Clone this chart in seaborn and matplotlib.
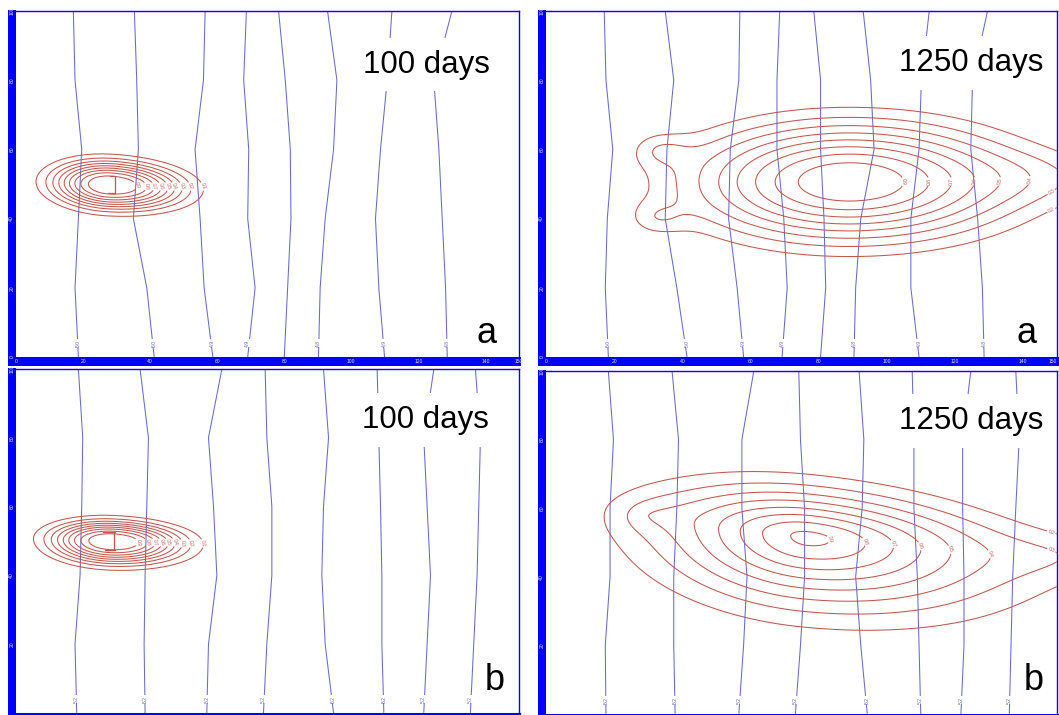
import numpy as np
import pandas as pd
import matplotlib
matplotlib.use("Agg")
import matplotlib.pyplot as plt
import seaborn as sns
from matplotlib.patches import Rectangle

sns.set_style("white")
plt.rcParams["font.family"] = ["Liberation Sans", "DejaVu Sans"]

# ---------------------------------------------------------------- data
# sample depths (m) at which each head isoline is traced
iso_y = [100, 80, 60, 40, 20, 0]

# x position (m) of each head isoline at the depths above
iso_a100 = [
    [17.1, 17.6, 19.6, 18.6, 17.6, 18.6],
    [35.3, 36.0, 36.5, 35.0, 39.0, 41.2],
    [56.4, 55.9, 53.4, 54.9, 56.1, 58.7],
    [68.7, 67.9, 69.4, 69.1, 71.3, 69.1],
    [78.3, 80.3, 81.8, 82.0, 81.0, 80.0],
    [92.9, 95.7, 94.7, 92.2, 90.7, 90.2],
    [112.1, 110.7, 108.7, 107.2, 108.2, 109.9],
    [130.0, 124.6, 126.1, 127.1, 128.1, 128.6],
]
iso_a1250 = [
    [17.1, 17.6, 19.6, 18.0, 17.4, 18.3],
    [35.0, 37.5, 35.5, 35.0, 38.4, 41.4],
    [56.9, 56.6, 54.1, 53.6, 56.1, 58.0],
    [68.6, 67.8, 67.8, 69.8, 70.8, 69.3],
    [78.6, 80.6, 80.6, 81.6, 82.1, 80.6],
    [93.1, 95.3, 96.3, 92.4, 90.9, 90.4],
    [112.5, 110.2, 109.5, 107.1, 107.1, 109.5],
    [129.6, 125.2, 124.7, 126.7, 128.1, 128.6],
]
iso_b100 = [
    [18.6, 19.9, 19.6, 19.1, 17.6, 18.1],
    [37.0, 39.5, 39.0, 38.5, 38.2, 38.5],
    [61.4, 57.4, 58.9, 59.9, 57.4, 56.9],
    [74.3, 74.8, 76.3, 76.3, 74.8, 73.8],
    [91.7, 93.2, 91.7, 91.2, 92.2, 94.7],
    [107.7, 108.2, 108.7, 109.1, 109.1, 109.7],
    [124.6, 121.6, 122.6, 123.6, 122.6, 121.6],
    [137.0, 138.5, 138.0, 137.5, 136.5, 135.5],
]
iso_b1250 = [
    [18.3, 19.8, 18.8, 18.8, 17.4, 17.6],
    [37.0, 38.9, 38.4, 37.5, 37.5, 37.9],
    [61.0, 57.5, 57.5, 59.0, 58.0, 56.6],
    [74.2, 74.7, 75.9, 75.9, 74.7, 73.2],
    [91.9, 93.3, 92.8, 90.9, 92.4, 94.3],
    [107.5, 108.0, 108.0, 109.0, 109.5, 110.0],
    [124.7, 122.3, 122.3, 122.7, 122.7, 121.8],
    [137.9, 138.9, 137.9, 137.0, 136.5, 136.0],
]

# head values written at the foot of each isoline ("" = unlabelled)
head_labels_a = ["5.0", "5.0", "4.9", "4.9", "", "4.8", "4.9", "4.8"]
head_labels_b = ["5.2", "5.2", "5.2", "5.2", "5.2", "5.2", "5.2", "5.2"]

# plume components: centre, spreads (left/right, up/down), peak, tilt (deg)
a100_x, a100_y = [28.0], [49.7]
a100_sxl, a100_sxr, a100_syu, a100_syd = [15.8], [20.0], [6.4], [6.4]
a100_amp, a100_tilt, a100_shape = [1.0], [-3.0], 2.5

b100_x, b100_y = [28.5], [49.9]
b100_sxl, b100_sxr, b100_syu, b100_syd = [16.7], [19.6], [5.4], [6.0]
b100_amp, b100_tilt, b100_shape = [1.0], [-2.0], 2.5

a1250_x, a1250_y = [89.0, 150.0, 33.0, 32.0], [50.6, 52.0, 60.0, 40.0]
a1250_sxl, a1250_sxr = [46.0, 25.0, 8.0, 8.0], [48.0, 25.0, 9.0, 9.0]
a1250_syu, a1250_syd = [17.0, 8.0, 5.0, 5.0], [17.0, 8.0, 5.0, 5.0]
a1250_amp, a1250_tilt, a1250_shape = [1.0, 0.12, 0.15, 0.15], [0, 0, 0, 0], 2.0

b1250_x, b1250_y = [77.0, 150.0, 30.0], [51.5, 46.0, 58.0]
b1250_sxl, b1250_sxr = [44.0, 20.0, 10.0], [55.0, 20.0, 10.0]
b1250_syu, b1250_syd = [14.0, 7.0, 5.0], [20.0, 7.0, 5.0]
b1250_amp, b1250_tilt, b1250_shape = [0.93, 0.12, 0.10], [-6.0, 0, 0], 1.6

levels_100 = [0.1, 0.2, 0.3, 0.4, 0.5, 0.6, 0.7, 0.8, 0.9]
levels_1250 = [0.2, 0.3, 0.4, 0.5, 0.6, 0.7, 0.8, 0.9]

# injection well outline (x, y)
well_a_x, well_a_y = [28.0, 29.5, 29.5, 27.5], [52.2, 52.2, 47.3, 47.3]
well_b_x, well_b_y = [26.0, 29.5, 29.2, 29.2, 26.5, 29.5], [52.6, 52.6, 52.6, 47.3, 47.3, 47.3]

x_ticks = [0, 20, 40, 60, 80, 100, 120, 140, 150]
y_ticks = [0, 20, 40, 60, 80, 100]

# ---------------------------------------------------------------- style
W, H = 1059, 715
BAR = "#0000ff"
ISO = "#6868d4"
RED = "#c4554c"

fig = plt.figure(figsize=(W / 100, H / 100), dpi=100)

gx, gy = np.meshgrid(np.linspace(0, 150, 451), np.linspace(0, 100, 301))


def plume(bx, by, sxl, sxr, syu, syd, amp, tilt, shape):
    z = np.zeros_like(gx)
    for x0, y0, a, b, c, d, A, t in zip(bx, by, sxl, sxr, syu, syd, amp, tilt):
        th = np.deg2rad(t)
        dx, dy = gx - x0, gy - y0
        u = dx * np.cos(th) + dy * np.sin(th)
        v = -dx * np.sin(th) + dy * np.cos(th)
        su = np.where(u < 0, a, b)
        sv = np.where(v > 0, c, d)
        r2 = (u / su) ** 2 + (v / sv) ** 2
        z += A * np.exp(-(r2 ** (shape / 2)))
    return z


def fig_rect(x0, y0, x1, y1, **kw):
    fig.add_artist(Rectangle((x0 / W, 1 - y1 / H), (x1 - x0) / W, (y1 - y0) / H,
                             transform=fig.transFigure, zorder=-1, lw=0, **kw))


def panel(box, iso, head_labels, field, levels, well, title, letter,
          title_pos, letter_pos, bottom_row, right_col):
    x0, y0, x1, y1 = box
    ax = fig.add_axes([x0 / W, 1 - y1 / H, (x1 - x0) / W, (y1 - y0) / H])
    ax.set_facecolor("white")
    # thick blue frame on the left and bottom
    fig_rect(x0 - 8, y0 - 1, x0, y1 + 9, color=BAR)
    fig_rect(x0 - 8, y1, x1 + 2, y1 + 9, color=BAR)
    for s in ["left", "bottom"]:
        ax.spines[s].set_visible(False)
    for s in ["top", "right"]:
        ax.spines[s].set_color(BAR)
        ax.spines[s].set_linewidth(1.0)

    # head isolines
    rows = []
    for k, xs in enumerate(iso):
        for xv, yv in zip(xs, iso_y):
            rows.append({"line": k, "x": xv, "y": yv})
    df = pd.DataFrame(rows)
    sns.lineplot(data=df, x="x", y="y", units="line", estimator=None, orient="y",
                 color=ISO, lw=0.75, ax=ax, legend=False)
    for xs, lab in zip(iso, head_labels):
        if lab:
            ax.text(xs[-1], 4.0, lab, rotation=90, fontsize=3.6, color=ISO,
                    ha="center", va="center", zorder=4,
                    bbox=dict(boxstyle="square,pad=0.15", fc="white", ec="none"))

    # concentration contours
    cs = ax.contour(gx, gy, field, levels=levels, colors=RED, linewidths=0.75, zorder=3)
    spots = []
    for segs in cs.allsegs:
        segs = [s for s in segs if len(s)]
        if not segs:
            continue
        pts = np.vstack(segs)
        if np.any(pts[:, 0] < 148.5):
            pts = pts[pts[:, 0] < 148.5]
        spots.append(tuple(pts[np.argmax(pts[:, 0] - 0.3 * np.abs(pts[:, 1] - pts[:, 1].mean()))]))
    ax.clabel(cs, fmt="%.1f", fontsize=3.5, inline=True, inline_spacing=1, manual=spots)
    if well is not None:
        ax.plot(well[0], well[1], color=RED, lw=0.9, zorder=3)

    ax.set_xlim(0, 150)
    ax.set_ylim(0, 100)
    if bottom_row:
        ax.set_xticks([])
        ax.set_yticks(y_ticks[1:])
        ax.set_yticklabels([str(t) for t in y_ticks[1:]], rotation=90, va="center")
    else:
        ax.set_xticks(x_ticks)
        ax.set_xticklabels([str(t) for t in x_ticks])
        if right_col:
            ax.get_xticklabels()[-1].set_ha("right")
        ax.set_yticks(y_ticks)
        ax.set_yticklabels([str(t) for t in y_ticks], rotation=90, va="center")
    ax.tick_params(axis="x", length=0, pad=1.6, labelsize=3.6, labelcolor="#e8e8ff")
    ax.tick_params(axis="y", length=0, pad=1.2, labelsize=3.6, labelcolor="#e8e8ff")
    ax.set_xlabel("")
    ax.set_ylabel("")

    ax.text(title_pos[0], title_pos[1], title, transform=ax.transAxes, ha="center",
            va="baseline", fontsize=22.5, color="black", zorder=10,
            bbox=dict(boxstyle="square,pad=0.38", fc="white", ec="none"))
    ax.text(letter_pos[0], letter_pos[1], letter, transform=ax.transAxes, ha="center",
            va="baseline", fontsize=26, color="black", zorder=10)
    return ax


f_a100 = plume(a100_x, a100_y, a100_sxl, a100_sxr, a100_syu, a100_syd, a100_amp, a100_tilt, a100_shape)
f_b100 = plume(b100_x, b100_y, b100_sxl, b100_sxr, b100_syu, b100_syd, b100_amp, b100_tilt, b100_shape)
f_a1250 = plume(a1250_x, a1250_y, a1250_sxl, a1250_sxr, a1250_syu, a1250_syd, a1250_amp, a1250_tilt, a1250_shape)
f_b1250 = plume(b1250_x, b1250_y, b1250_sxl, b1250_sxr, b1250_syu, b1250_syd, b1250_amp, b1250_tilt, b1250_shape)

panel((16, 11, 519, 357), iso_a100, head_labels_a, f_a100, levels_100,
      (well_a_x, well_a_y), "100 days", "a", (0.815, 0.822), (0.936, 0.04), False, False)
panel((546, 11, 1057, 357), iso_a1250, head_labels_a, f_a1250, levels_1250,
      None, "1250 days", "a", (0.832, 0.826), (0.941, 0.04), False, True)
panel((16, 369, 519, 713), iso_b100, head_labels_b, f_b100, levels_100,
      (well_b_x, well_b_y), "100 days", "b", (0.813, 0.828), (0.951, 0.067), True, False)
panel((546, 371, 1057, 714), iso_b1250, head_labels_b, f_b1250, levels_1250,
      None, "1250 days", "b", (0.832, 0.831), (0.955, 0.07), True, True)

fig.savefig("out.png", dpi=100, facecolor="white")
